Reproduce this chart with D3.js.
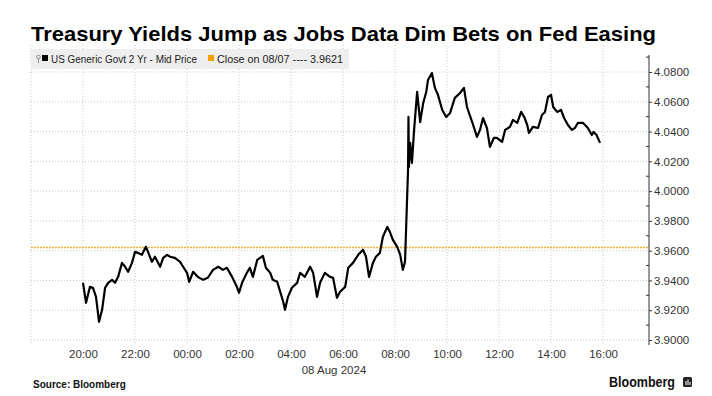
<!DOCTYPE html>
<html>
<head>
<meta charset="utf-8">
<script src="https://cdn.jsdelivr.net/npm/d3@7"></script>
<style>
  body { margin: 0; background: #fff; }
  svg { display: block; font-family: "Liberation Sans", Arial, sans-serif; }
</style>
</head>
<body>
<div id="chart"></div>
<script>
// minutes after 20:00 on 07 Aug 2024
const minutes = [
  0, 7, 16, 23, 30, 37, 44, 51, 58, 67, 74, 81, 90, 97, 104, 113, 120, 127, 136, 145,
  150, 159, 166, 178, 185, 194, 201, 212, 224, 231, 240, 245, 254, 265, 277, 288, 300, 312, 323, 332,
  344, 355, 360, 367, 378, 385, 392, 402, 415, 422, 432, 438, 448, 455, 462, 466, 473, 482, 494, 501,
  512, 524, 531, 540, 547, 558, 570, 577, 586, 593, 605, 612, 623, 635, 646, 653, 660, 669, 676, 685,
  692, 702, 708, 715, 725, 732, 738, 743, 750, 751, 752, 755, 759, 764, 771, 778, 785, 792, 796, 805,
  812, 819, 829, 838, 847, 858, 870, 879, 886, 898, 909, 916, 923, 932, 939, 948, 955, 967, 974, 985,
  992, 1002, 1011, 1018, 1025, 1029, 1038, 1050, 1059, 1066, 1073, 1080, 1085, 1094, 1103, 1110, 1119, 1128, 1135, 1142,
  1154, 1165, 1174, 1178, 1185, 1193
];
const yields = [
  3.9384, 3.9250, 3.9357, 3.9351, 3.9290, 3.9122, 3.9203, 3.9351, 3.9384, 3.9404, 3.9384, 3.9424, 3.9518, 3.9492, 3.9458, 3.9518, 3.9592, 3.9585, 3.9572, 3.9626,
  3.9592, 3.9525, 3.9559, 3.9492, 3.9552, 3.9572, 3.9559, 3.9552, 3.9525, 3.9492, 3.9451, 3.9391, 3.9458, 3.9424, 3.9404, 3.9418, 3.9471, 3.9492, 3.9471, 3.9485,
  3.9424, 3.9357, 3.9317, 3.9384, 3.9451, 3.9485, 3.9424, 3.9538, 3.9565, 3.9485, 3.9451, 3.9404, 3.9391, 3.9324, 3.9257, 3.9203, 3.9290, 3.9351, 3.9384, 3.9451,
  3.9424, 3.9492, 3.9451, 3.9290, 3.9384, 3.9451, 3.9424, 3.9418, 3.9284, 3.9324, 3.9357, 3.9485, 3.9518, 3.9572, 3.9606, 3.9559, 3.9424, 3.9518, 3.9559, 3.9585,
  3.9693, 3.9760, 3.9726, 3.9673, 3.9626, 3.9572, 3.9471, 3.9525, 4.0142, 4.0498, 4.0162, 4.0324, 4.0189, 4.0411, 4.0666, 4.0464, 4.0592, 4.0666, 4.0746, 4.0793,
  4.0693, 4.0646, 4.0545, 4.0498, 4.0525, 4.0626, 4.0659, 4.0693, 4.0565, 4.0464, 4.0364, 4.0411, 4.0491, 4.0424, 4.0297, 4.0357, 4.0357, 4.0330, 4.0411, 4.0431,
  4.0478, 4.0458, 4.0532, 4.0498, 4.0444, 4.0391, 4.0431, 4.0424, 4.0511, 4.0532, 4.0632, 4.0646, 4.0565, 4.0532, 4.0545, 4.0491, 4.0444, 4.0411, 4.0424, 4.0458,
  4.0458, 4.0424, 4.0377, 4.0397, 4.0377, 4.0324
];
const prevClose = 3.9621;
const yTicks = [3.90, 3.92, 3.94, 3.96, 3.98, 4.00, 4.02, 4.04, 4.06, 4.08];
const yMinor = [3.91, 3.93, 3.95, 3.97, 3.99, 4.01, 4.03, 4.05, 4.07, 4.09];
const xTickHours = [20, 22, 24, 26, 28, 30, 32, 34, 36, 38, 40]; // hours after 00:00 on 07 Aug
const gridHours = [18, 20, 22, 24, 26, 28, 30, 32, 34, 36, 38, 40];

const width = 712, height = 396;
const plotLeft = 31, plotRight = 649, plotTop = 45, plotBottom = 345;

const start = new Date(2024, 7, 7, 20, 0);
const data = minutes.map((m, i) => ({ t: new Date(+start + m * 60000), v: yields[i] }));
const hourDate = h => new Date(2024, 7, 7, h, 0);

const svg = d3.select('#chart').append('svg')
  .attr('width', width)
  .attr('height', height);

const x = d3.scaleTime()
  .domain([new Date(2024, 7, 7, 18, 0), new Date(2024, 7, 8, 17, 46)])
  .range([plotLeft, plotRight]);
const y = d3.scaleLinear().domain([3.90, 4.08]).range([340, 72]);

// title
svg.append('text')
  .attr('x', 31).attr('y', 41)
  .attr('font-size', 21).attr('font-weight', 'bold')
  .attr('fill', '#000')
  .attr('textLength', 625).attr('lengthAdjust', 'spacingAndGlyphs')
  .text('Treasury Yields Jump as Jobs Data Dim Bets on Fed Easing');

// grid
svg.append('g').selectAll('line')
  .data(yTicks)
  .enter().append('line')
  .attr('x1', plotLeft).attr('x2', plotRight)
  .attr('y1', d => y(d)).attr('y2', d => y(d))
  .attr('stroke', '#c8c8c8').attr('stroke-dasharray', '1,2');

svg.append('g').selectAll('line')
  .data(gridHours)
  .enter().append('line')
  .attr('x1', d => x(hourDate(d))).attr('x2', d => x(hourDate(d)))
  .attr('y1', plotTop).attr('y2', plotBottom)
  .attr('stroke', '#c8c8c8').attr('stroke-dasharray', '1,2');

// previous close
svg.append('line')
  .attr('x1', plotLeft).attr('x2', plotRight)
  .attr('y1', y(prevClose)).attr('y2', y(prevClose))
  .attr('stroke', '#f3ae35').attr('stroke-width', 1.6)
  .attr('stroke-dasharray', '2,1');

// series
const line = d3.line().x(d => x(d.t)).y(d => y(d.v));
svg.append('path')
  .datum(data)
  .attr('d', line)
  .attr('fill', 'none')
  .attr('stroke', '#000')
  .attr('stroke-width', 2.2)
  .attr('stroke-linejoin', 'round');

// y axis
const yAxis = svg.append('g')
  .attr('transform', `translate(${plotRight},0)`)
  .call(d3.axisRight(y).tickValues(yTicks).tickSize(3).tickPadding(2).tickFormat(d3.format('.4f')));
yAxis.select('.domain').remove();
yAxis.selectAll('text').attr('font-size', 11.5).attr('fill', '#333').attr('font-family', '"Liberation Sans", Arial, sans-serif');
yAxis.selectAll('line').attr('stroke', '#333');
yAxis.append('line')
  .attr('x1', 0).attr('x2', 0).attr('y1', 55).attr('y2', plotBottom)
  .attr('stroke', '#333');
yAxis.selectAll('.minor')
  .data(yMinor)
  .enter().append('line')
  .attr('class', 'minor')
  .attr('x1', -3).attr('x2', 0)
  .attr('y1', d => y(d)).attr('y2', d => y(d))
  .attr('stroke', '#333');

// x axis
const xAxis = svg.append('g')
  .attr('transform', `translate(0,${plotBottom})`)
  .call(d3.axisBottom(x).tickValues(xTickHours.map(hourDate)).tickSize(0).tickPadding(5).tickFormat(d3.timeFormat('%H:%M')));
xAxis.select('.domain').remove();
xAxis.selectAll('text').attr('font-size', 11.5).attr('fill', '#333').attr('font-family', '"Liberation Sans", Arial, sans-serif');

svg.append('text')
  .attr('x', 334).attr('y', 374)
  .attr('text-anchor', 'middle')
  .attr('font-size', 11.5).attr('fill', '#333')
  .text('08 Aug 2024');

// legend
const legend = svg.append('g');
legend.append('rect')
  .attr('x', 31).attr('y', 49).attr('width', 318).attr('height', 20)
  .attr('fill', '#eeeeee');
legend.append('circle')
  .attr('cx', 38.5).attr('cy', 57).attr('r', 1.8)
  .attr('fill', 'none').attr('stroke', '#777').attr('stroke-width', 0.8);
legend.append('line')
  .attr('x1', 38.5).attr('x2', 38.5).attr('y1', 59).attr('y2', 63)
  .attr('stroke', '#777').attr('stroke-width', 0.8);
legend.append('rect')
  .attr('x', 42).attr('y', 55).attr('width', 6).attr('height', 6)
  .attr('fill', '#000');
legend.append('text')
  .attr('x', 51).attr('y', 63)
  .attr('font-size', 10.5).attr('fill', '#222')
  .attr('textLength', 146).attr('lengthAdjust', 'spacingAndGlyphs')
  .text('US Generic Govt 2 Yr - Mid Price');
legend.append('rect')
  .attr('x', 208).attr('y', 55).attr('width', 6).attr('height', 6)
  .attr('fill', '#f5a000');
legend.append('text')
  .attr('x', 217).attr('y', 63)
  .attr('font-size', 10.5).attr('fill', '#222')
  .attr('textLength', 126).attr('lengthAdjust', 'spacingAndGlyphs')
  .text('Close on 08/07 ---- ' + prevClose.toFixed(4));

// footer
svg.append('text')
  .attr('x', 33).attr('y', 388)
  .attr('font-size', 10).attr('font-weight', 'bold').attr('fill', '#111')
  .text('Source: Bloomberg');

svg.append('text')
  .attr('x', 675).attr('y', 387)
  .attr('text-anchor', 'end')
  .attr('font-size', 14).attr('font-weight', 'bold').attr('fill', '#111')
  .attr('textLength', 66).attr('lengthAdjust', 'spacingAndGlyphs')
  .text('Bloomberg');
const logo = svg.append('g').attr('transform', 'translate(683,377)');
logo.append('rect').attr('width', 9).attr('height', 10).attr('rx', 1.5).attr('fill', '#222');
logo.append('rect').attr('x', 2.5).attr('y', 4).attr('width', 1).attr('height', 4).attr('fill', '#fff');
logo.append('rect').attr('x', 4.5).attr('y', 2.5).attr('width', 1).attr('height', 5.5).attr('fill', '#fff');
logo.append('rect').attr('x', 6.5).attr('y', 5).attr('width', 1).attr('height', 3).attr('fill', '#fff');
</script>
</body>
</html>
